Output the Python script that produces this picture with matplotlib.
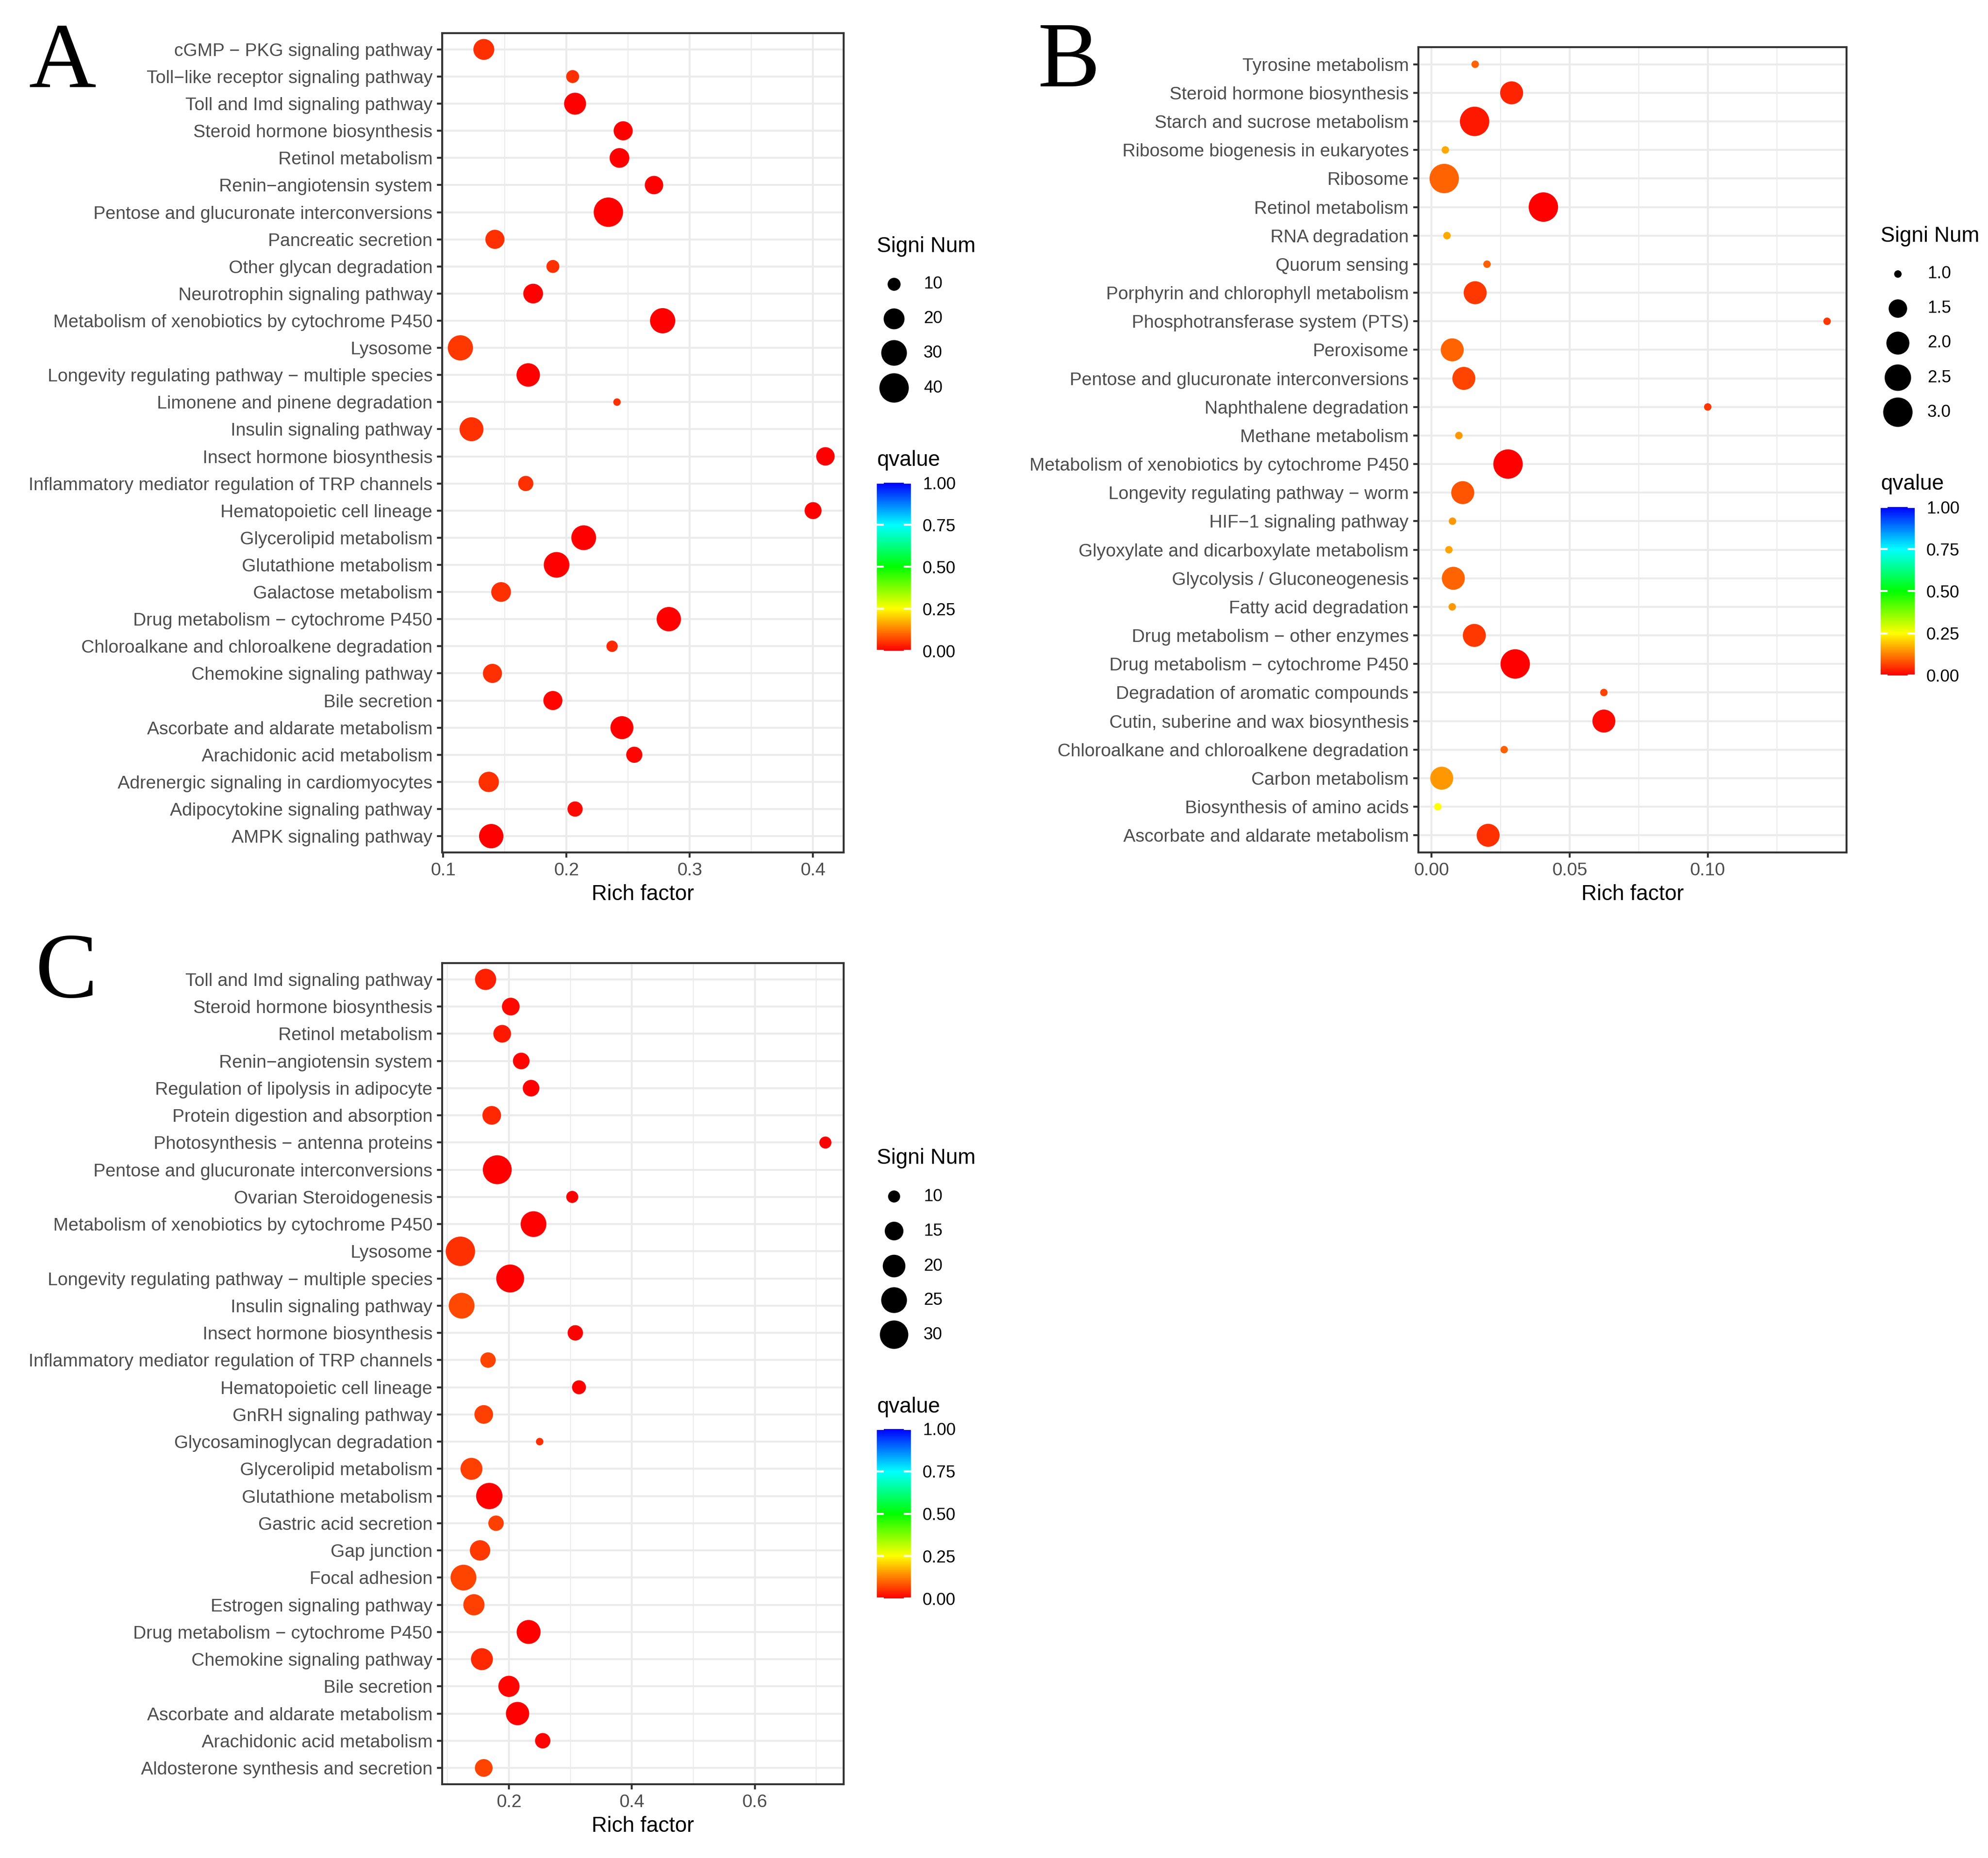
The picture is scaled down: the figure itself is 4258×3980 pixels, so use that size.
import numpy as np
import matplotlib
matplotlib.use("Agg")
from matplotlib import pyplot as plt
from matplotlib.colors import LinearSegmentedColormap, Normalize
from matplotlib.cm import ScalarMappable

plt.rcParams['font.family'] = ['Liberation Sans', 'DejaVu Sans']

# ---- panel A (rows listed top to bottom)
terms_a = ["cGMP − PKG signaling pathway", "Toll−like receptor signaling pathway",
           "Toll and Imd signaling pathway", "Steroid hormone biosynthesis", "Retinol metabolism",
           "Renin−angiotensin system", "Pentose and glucuronate interconversions",
           "Pancreatic secretion", "Other glycan degradation", "Neurotrophin signaling pathway",
           "Metabolism of xenobiotics by cytochrome P450", "Lysosome",
           "Longevity regulating pathway − multiple species", "Limonene and pinene degradation",
           "Insulin signaling pathway", "Insect hormone biosynthesis",
           "Inflammatory mediator regulation of TRP channels", "Hematopoietic cell lineage",
           "Glycerolipid metabolism", "Glutathione metabolism", "Galactose metabolism",
           "Drug metabolism − cytochrome P450", "Chloroalkane and chloroalkene degradation",
           "Chemokine signaling pathway", "Bile secretion", "Ascorbate and aldarate metabolism",
           "Arachidonic acid metabolism", "Adrenergic signaling in cardiomyocytes",
           "Adipocytokine signaling pathway", "AMPK signaling pathway"]
rich_a = [0.133, 0.205, 0.207, 0.246, 0.243, 0.271, 0.234, 0.142, 0.189, 0.173,
          0.278, 0.114, 0.169, 0.241, 0.123, 0.410, 0.167, 0.400, 0.214, 0.192,
          0.147, 0.283, 0.237, 0.140, 0.189, 0.245, 0.255, 0.137, 0.207, 0.139]
num_a = [20, 10, 22, 17, 18, 16, 40, 17, 10, 18, 29, 29, 25, 8, 26, 16, 12, 14, 28, 30,
         18, 27, 9, 17, 17, 24, 13, 19, 12, 27]
q_a = [0.05, 0.05, 0.0, 0.0, 0.0, 0.0, 0.0, 0.05, 0.05, 0.0, 0.0, 0.055, 0.0, 0.05, 0.05,
       0.0, 0.05, 0.0, 0.0, 0.0, 0.05, 0.0, 0.04, 0.05, 0.005, 0.0, 0.005, 0.05, 0.01, 0.0]

# ---- panel B
terms_b = ["Tyrosine metabolism", "Steroid hormone biosynthesis", "Starch and sucrose metabolism",
           "Ribosome biogenesis in eukaryotes", "Ribosome", "Retinol metabolism", "RNA degradation",
           "Quorum sensing", "Porphyrin and chlorophyll metabolism",
           "Phosphotransferase system (PTS)", "Peroxisome",
           "Pentose and glucuronate interconversions", "Naphthalene degradation",
           "Methane metabolism", "Metabolism of xenobiotics by cytochrome P450",
           "Longevity regulating pathway − worm", "HIF−1 signaling pathway",
           "Glyoxylate and dicarboxylate metabolism", "Glycolysis / Gluconeogenesis",
           "Fatty acid degradation", "Drug metabolism − other enzymes",
           "Drug metabolism − cytochrome P450", "Degradation of aromatic compounds",
           "Cutin, suberine and wax biosynthesis", "Chloroalkane and chloroalkene degradation",
           "Carbon metabolism", "Biosynthesis of amino acids", "Ascorbate and aldarate metabolism"]
rich_b = [0.0158, 0.0290, 0.0156, 0.0050, 0.0046, 0.0405, 0.0056, 0.0201, 0.0158, 0.1432,
          0.0075, 0.0117, 0.1000, 0.0099, 0.0277, 0.0113, 0.0076, 0.0063, 0.0079, 0.0075,
          0.0155, 0.0303, 0.0624, 0.0624, 0.0263, 0.0037, 0.0023, 0.0205]
num_b = [1, 2, 3, 1, 3, 3, 1, 1, 2, 1, 2, 2, 1, 1, 3, 2, 1, 1, 2, 1, 2, 3, 1, 2, 1, 2, 1, 2]
q_b = [0.10, 0.039, 0.025, 0.167, 0.10, 0.0, 0.167, 0.094, 0.057, 0.055, 0.10, 0.07, 0.055,
       0.15, 0.0, 0.083, 0.15, 0.162, 0.10, 0.15, 0.057, 0.0, 0.067, 0.01, 0.094, 0.15,
       0.25, 0.05]

# ---- panel C
terms_c = ["Toll and Imd signaling pathway", "Steroid hormone biosynthesis", "Retinol metabolism",
           "Renin−angiotensin system", "Regulation of lipolysis in adipocyte",
           "Protein digestion and absorption", "Photosynthesis − antenna proteins",
           "Pentose and glucuronate interconversions", "Ovarian Steroidogenesis",
           "Metabolism of xenobiotics by cytochrome P450", "Lysosome",
           "Longevity regulating pathway − multiple species", "Insulin signaling pathway",
           "Insect hormone biosynthesis", "Inflammatory mediator regulation of TRP channels",
           "Hematopoietic cell lineage", "GnRH signaling pathway", "Glycosaminoglycan degradation",
           "Glycerolipid metabolism", "Glutathione metabolism", "Gastric acid secretion",
           "Gap junction", "Focal adhesion", "Estrogen signaling pathway",
           "Drug metabolism − cytochrome P450", "Chemokine signaling pathway", "Bile secretion",
           "Ascorbate and aldarate metabolism", "Arachidonic acid metabolism",
           "Aldosterone synthesis and secretion"]
rich_c = [0.162, 0.203, 0.189, 0.220, 0.236, 0.172, 0.715, 0.181, 0.303, 0.240,
          0.121, 0.202, 0.123, 0.308, 0.166, 0.314, 0.159, 0.250, 0.139, 0.168,
          0.179, 0.153, 0.126, 0.143, 0.232, 0.156, 0.200, 0.214, 0.255, 0.159]
num_c = [18, 14, 14, 13, 13, 15, 10, 31, 10, 25, 32, 29, 25, 12, 12, 11, 15, 9, 19, 26,
         12, 17, 25, 18, 22, 19, 18, 21, 12, 14]
q_c = [0.033, 0.01, 0.025, 0.005, 0.0, 0.04, 0.0, 0.0, 0.0, 0.0, 0.05, 0.0, 0.073, 0.0, 0.067,
       0.0, 0.063, 0.05, 0.063, 0.0, 0.063, 0.057, 0.067, 0.063, 0.0, 0.041, 0.005, 0.0,
       0.005, 0.067]

q_breaks = [0.0, 0.25, 0.5, 0.75, 1.0]
q_labels = ["0.00", "0.25", "0.50", "0.75", "1.00"]

W, H, DPI = 4258, 3980, 300
GREY20, GREY30, GRID = '#333333', '#4D4D4D', '#EBEBEB'

cmap = LinearSegmentedColormap.from_list(
    "qv", ["#FF0000", "#FFFF00", "#00FF00", "#00FFFF", "#0000FF"])
norm = Normalize(0, 1)

# ggplot-like area scale: diameter from 16px to 63px (at 300 dpi)
D_MIN, D_MAX = 16 * 72 / DPI, 63 * 72 / DPI


def dot_area(v, lo, hi):
    v = np.asarray(v, float)
    d = D_MIN + (D_MAX - D_MIN) * np.sqrt((v - lo) / (hi - lo))
    return d ** 2


fig = plt.figure(figsize=(W / DPI, H / DPI), dpi=DPI)


def draw_panel(rect, terms, rich, num, q, xticks, xlabels, minor):
    l, t, r, b = rect
    ax = fig.add_axes([l / W, 1 - b / H, (r - l) / W, (b - t) / H])
    n = len(terms)
    y = np.arange(n, 0, -1)
    ax.scatter(rich, y, s=dot_area(num, min(num), max(num)), c=q, cmap=cmap, norm=norm,
               linewidths=0, zorder=3)
    span = max(rich) - min(rich)
    ax.set_xlim(min(rich) - 0.05 * span, max(rich) + 0.05 * span)
    ax.set_ylim(0.4, n + 0.6)
    ax.set_yticks(y)
    ax.set_yticklabels(terms)
    ax.set_xticks(xticks)
    ax.set_xticklabels(xlabels)
    ax.set_xticks(minor, minor=True)
    ax.set_axisbelow(True)
    ax.grid(which='major', color=GRID, lw=1.0)
    ax.grid(which='minor', axis='x', color=GRID, lw=0.5)
    ax.tick_params(which='minor', length=0)
    ax.tick_params(which='major', length=2.75, width=1.0, color=GREY20, labelsize=9.35,
                   labelcolor=GREY30, pad=2.2)
    for s in ax.spines.values():
        s.set_color(GREY20)
        s.set_linewidth(1.0)
    ax.set_xlabel("Rich factor", fontsize=11, labelpad=2.75)
    return ax


draw_panel((947, 71, 1807, 1826), terms_a, rich_a, num_a, q_a,
           [0.1, 0.2, 0.3, 0.4], ["0.1", "0.2", "0.3", "0.4"], [0.15, 0.25, 0.35])
draw_panel((3038, 101, 3955, 1826), terms_b, rich_b, num_b, q_b,
           [0.0, 0.05, 0.10], ["0.00", "0.05", "0.10"], [0.025, 0.075, 0.125])
draw_panel((947, 2063, 1807, 3822), terms_c, rich_c, num_c, q_c,
           [0.2, 0.4, 0.6], ["0.2", "0.4", "0.6"], [0.1, 0.3, 0.5, 0.7])

# overlay in pixel coordinates for legends and letters
ov = fig.add_axes([0, 0, 1, 1])
ov.set_xlim(0, W)
ov.set_ylim(H, 0)
ov.axis('off')


def draw_legend(lx, title_y, dot_ys, breaks, labels, num, q_y, cb_top, cb_bot):
    ov.text(lx, title_y, "Signi Num", fontsize=11, va='center', ha='left')
    ov.scatter([lx + 37] * len(breaks), dot_ys, s=dot_area(breaks, min(num), max(num)),
               color='black', linewidths=0)
    for yy, lab in zip(dot_ys, labels):
        ov.text(lx + 100, yy, lab, fontsize=8.8, va='center', ha='left')
    ov.text(lx, q_y, "qvalue", fontsize=11, va='center', ha='left')
    cax = fig.add_axes([lx / W, 1 - cb_bot / H, 73 / W, (cb_bot - cb_top) / H])
    cb = fig.colorbar(ScalarMappable(norm=norm, cmap=cmap), cax=cax)
    cb.outline.set_visible(False)
    cb.set_ticks(q_breaks)
    cb.set_ticklabels(q_labels)
    cax.tick_params(length=0, labelsize=8.8, pad=6)
    for bk in q_breaks:
        cax.plot([0, 0.2], [bk, bk], color='white', lw=1.0, solid_capstyle='butt')
        cax.plot([0.8, 1], [bk, bk], color='white', lw=1.0, solid_capstyle='butt')
    cax.set_xlim(0, 1)


draw_legend(1878, 528, [609, 683, 756, 831], [10, 20, 30, 40], ["10", "20", "30", "40"],
            num_a, 986, 1034, 1394)
draw_legend(4028, 506, [587, 661, 735, 809, 883], [1.0, 1.5, 2.0, 2.5, 3.0],
            ["1.0", "1.5", "2.0", "2.5", "3.0"], num_b, 1037, 1086, 1447)
draw_legend(1878, 2481, [2563, 2637, 2712, 2785, 2859], [10, 15, 20, 25, 30],
            ["10", "15", "20", "25", "30"], num_c, 3014, 3061, 3424)

for letter, lx, ly in [("A", 62, 185), ("B", 2222, 185), ("C", 76, 2136)]:
    ov.text(lx, ly, letter, fontsize=48, family='Liberation Serif', va='baseline', ha='left')

fig.savefig("out.png", dpi=DPI)
